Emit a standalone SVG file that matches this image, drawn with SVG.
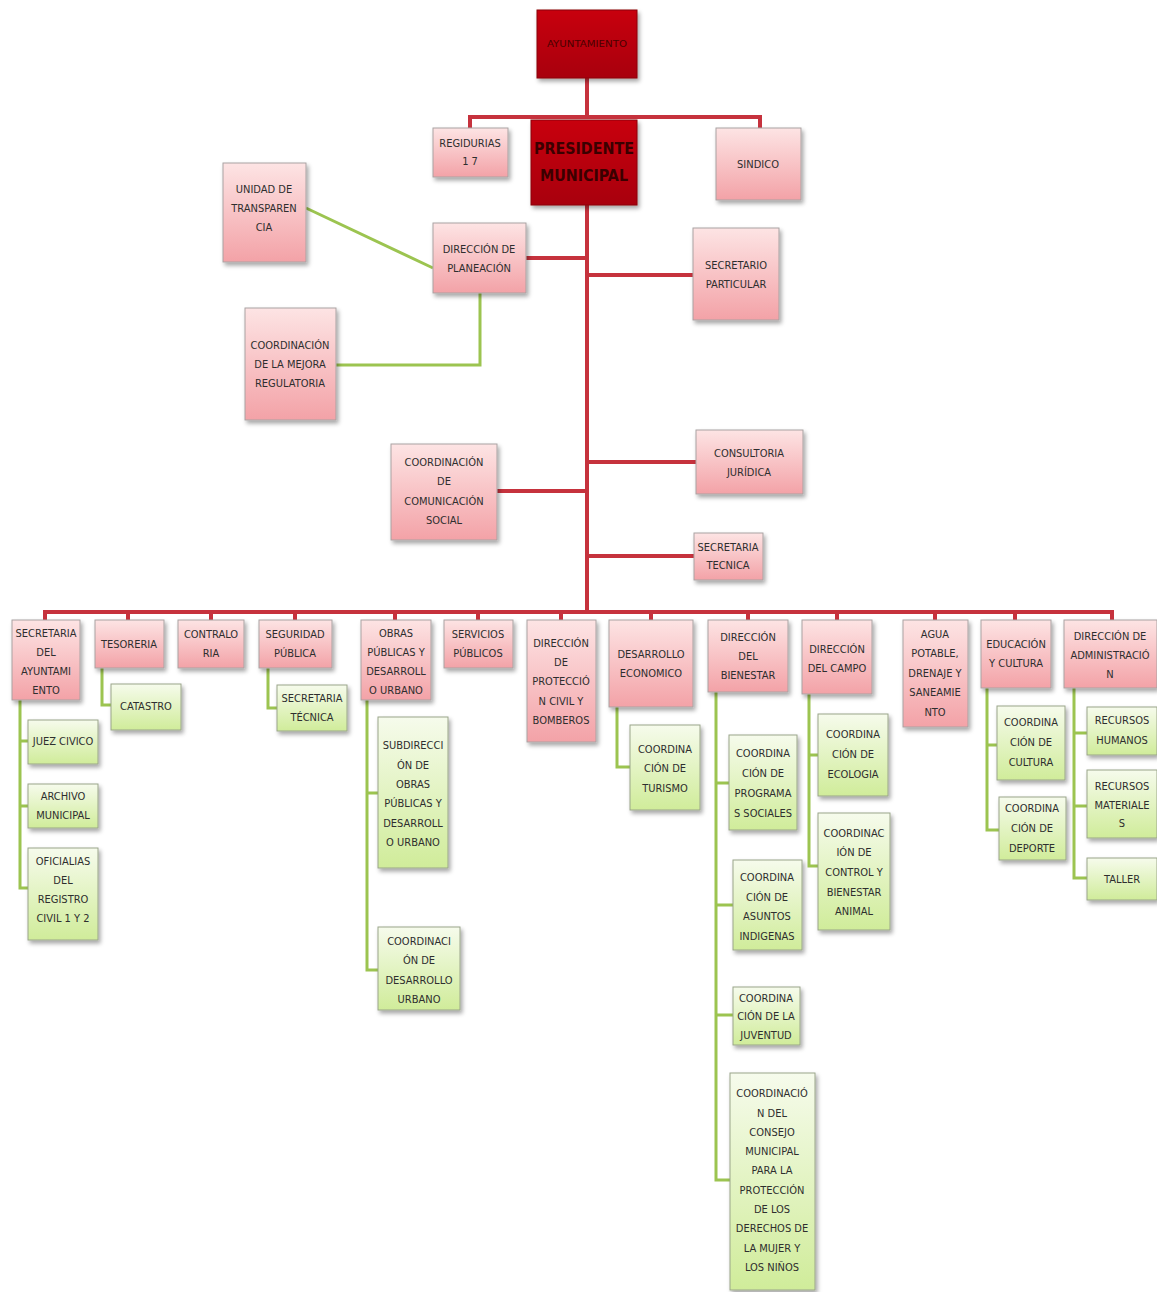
<svg xmlns="http://www.w3.org/2000/svg" width="1157" height="1292" viewBox="0 0 1157 1292">
<defs>
<linearGradient id="gp" x1="0" y1="0" x2="0" y2="1"><stop offset="0" stop-color="#fde4e4"/><stop offset="1" stop-color="#f3a2a7"/></linearGradient>
<linearGradient id="gg" x1="0" y1="0" x2="0" y2="1"><stop offset="0" stop-color="#f6fbec"/><stop offset="1" stop-color="#d0ec9a"/></linearGradient>
<linearGradient id="gr" x1="0" y1="0" x2="0" y2="1"><stop offset="0" stop-color="#c8000f"/><stop offset="1" stop-color="#a8000a"/></linearGradient>
<filter id="sh" x="-20%" y="-20%" width="140%" height="140%"><feDropShadow dx="2" dy="3" stdDeviation="2" flood-color="#000" flood-opacity="0.35"/></filter>
<style>
.p{fill:url(#gp);stroke:#a9a2a2;stroke-width:1;filter:url(#sh)}
.g{fill:url(#gg);stroke:#9aa58a;stroke-width:1;filter:url(#sh)}
.r{fill:url(#gr);stroke:#8a0008;stroke-width:1;filter:url(#sh)}
text{font-family:"Liberation Sans Narrow","DejaVu Sans Condensed","Liberation Sans",sans-serif;font-size:11px;fill:#2e2e2e;text-anchor:middle;dominant-baseline:central}
.big{font-size:16px;font-weight:bold;fill:#3a0000}
.tiny{font-size:8px;fill:#4a0000}
.rc{fill:none;stroke:#c6323d;stroke-width:4}
.gc{fill:none;stroke:#9cc450;stroke-width:3}
</style>
</defs>
<rect width="1157" height="1292" fill="#fff"/>
<g id="connectors">
<path class="rc" d="M587,78 V117 M470,128 V117 H760 V128 M587,205 V612 M526,258 H587 M587,275 H693 M587,462 H696 M497,491 H587 M587,556 H694 M45,620 V612 H1112 V620 M128,612 V620 M211,612 V620 M295,612 V620 M395,612 V620 M478,612 V620 M561,612 V620 M651,612 V620 M748,612 V620 M837,612 V620 M935,612 V620 M1015,612 V620"/>
<path class="gc" d="M306,208 L433,268 M480,293 V365 H336 M20,700 V888 H28 M20,741 H28 M20,806 H28 M102,668 V705 H111 M268,668 V708 H277 M367,700 V970 H378 M367,793 H378 M617,707 V767 H630 M716,692 V1180 H730 M716,783 H729 M716,905 H733 M716,1015 H733 M809,694 V866 H818 M809,755 H818 M987,688 V830 H999 M987,745 H997 M1074,688 V878 H1087 M1074,733 H1087 M1074,806 H1087"/>
</g>
<g id="ayuntamiento"><rect class="r" x="537" y="10" width="100" height="68"/><text class="tiny" x="587" y="44" textLength="80" lengthAdjust="spacingAndGlyphs">AYUNTAMIENTO</text></g>
<g id="presidente"><rect class="r" x="531" y="120" width="106" height="85"/><text class="big" x="584" y="148" textLength="100" lengthAdjust="spacingAndGlyphs">PRESIDENTE</text><text class="big" x="584" y="175" textLength="88" lengthAdjust="spacingAndGlyphs">MUNICIPAL</text></g>
<g id="regidurias"><rect class="p" x="433" y="128" width="75" height="49"/><text x="470" y="143">REGIDURIAS</text><text x="470" y="161">1 7</text></g>
<g id="sindico"><rect class="p" x="716" y="128" width="85" height="72"/><text x="758" y="164">SINDICO</text></g>
<g id="transparencia"><rect class="p" x="223" y="163" width="83" height="99"/><text x="264" y="189">UNIDAD DE</text><text x="264" y="208">TRANSPAREN</text><text x="264" y="227">CIA</text></g>
<g id="planeacion"><rect class="p" x="433" y="223" width="93" height="70"/><text x="479" y="249">DIRECCIÓN DE</text><text x="479" y="268">PLANEACIÓN</text></g>
<g id="particular"><rect class="p" x="693" y="228" width="86" height="92"/><text x="736" y="265">SECRETARIO</text><text x="736" y="284">PARTICULAR</text></g>
<g id="mejora"><rect class="p" x="245" y="308" width="91" height="112"/><text x="290" y="345">COORDINACIÓN</text><text x="290" y="364">DE LA MEJORA</text><text x="290" y="383">REGULATORIA</text></g>
<g id="consultoria"><rect class="p" x="696" y="430" width="107" height="64"/><text x="749" y="453">CONSULTORIA</text><text x="749" y="472">JURÍDICA</text></g>
<g id="comunicacion"><rect class="p" x="391" y="444" width="106" height="96"/><text x="444" y="462">COORDINACIÓN</text><text x="444" y="481">DE</text><text x="444" y="501">COMUNICACIÓN</text><text x="444" y="520">SOCIAL</text></g>
<g id="sectecnica"><rect class="p" x="694" y="533" width="69" height="47"/><text x="728" y="547">SECRETARIA</text><text x="728" y="565">TECNICA</text></g>
<g id="secayuntamiento"><rect class="p" x="12" y="620" width="68" height="80"/><text x="46" y="633">SECRETARIA</text><text x="46" y="652">DEL</text><text x="46" y="671">AYUNTAMI</text><text x="46" y="690">ENTO</text></g>
<g id="tesoreria"><rect class="p" x="95" y="620" width="69" height="48"/><text x="129" y="644">TESORERIA</text></g>
<g id="contraloria"><rect class="p" x="178" y="620" width="66" height="48"/><text x="211" y="634">CONTRALO</text><text x="211" y="653">RIA</text></g>
<g id="seguridad"><rect class="p" x="259" y="620" width="73" height="48"/><text x="295" y="634">SEGURIDAD</text><text x="295" y="653">PÚBLICA</text></g>
<g id="obras"><rect class="p" x="361" y="620" width="70" height="80"/><text x="396" y="633">OBRAS</text><text x="396" y="652">PÚBLICAS Y</text><text x="396" y="671">DESARROLL</text><text x="396" y="690">O URBANO</text></g>
<g id="servicios"><rect class="p" x="444" y="620" width="69" height="48"/><text x="478" y="634">SERVICIOS</text><text x="478" y="653">PÚBLICOS</text></g>
<g id="proteccion"><rect class="p" x="527" y="620" width="69" height="122"/><text x="561" y="643">DIRECCIÓN</text><text x="561" y="662">DE</text><text x="561" y="681">PROTECCIÓ</text><text x="561" y="701">N CIVIL Y</text><text x="561" y="720">BOMBEROS</text></g>
<g id="desarrolloeco"><rect class="p" x="609" y="620" width="84" height="87"/><text x="651" y="654">DESARROLLO</text><text x="651" y="673">ECONOMICO</text></g>
<g id="bienestar"><rect class="p" x="708" y="620" width="80" height="72"/><text x="748" y="637">DIRECCIÓN</text><text x="748" y="656">DEL</text><text x="748" y="675">BIENESTAR</text></g>
<g id="campo"><rect class="p" x="802" y="620" width="70" height="74"/><text x="837" y="649">DIRECCIÓN</text><text x="837" y="668">DEL CAMPO</text></g>
<g id="agua"><rect class="p" x="903" y="620" width="65" height="107"/><text x="935" y="634">AGUA</text><text x="935" y="653">POTABLE,</text><text x="935" y="673">DRENAJE Y</text><text x="935" y="692">SANEAMIE</text><text x="935" y="712">NTO</text></g>
<g id="educacion"><rect class="p" x="981" y="620" width="70" height="68"/><text x="1016" y="644">EDUCACIÓN</text><text x="1016" y="663">Y CULTURA</text></g>
<g id="administracion"><rect class="p" x="1064" y="620" width="93" height="68"/><text x="1110" y="636">DIRECCIÓN DE</text><text x="1110" y="655">ADMINISTRACIÓ</text><text x="1110" y="674">N</text></g>
<g id="juez"><rect class="g" x="28" y="720" width="70" height="44"/><text x="63" y="741">JUEZ CIVICO</text></g>
<g id="archivo"><rect class="g" x="28" y="784" width="70" height="44"/><text x="63" y="796">ARCHIVO</text><text x="63" y="815">MUNICIPAL</text></g>
<g id="oficialias"><rect class="g" x="28" y="848" width="70" height="92"/><text x="63" y="861">OFICIALIAS</text><text x="63" y="880">DEL</text><text x="63" y="899">REGISTRO</text><text x="63" y="918">CIVIL 1 Y 2</text></g>
<g id="catastro"><rect class="g" x="111" y="684" width="70" height="46"/><text x="146" y="706">CATASTRO</text></g>
<g id="sectecnica2"><rect class="g" x="277" y="685" width="70" height="46"/><text x="312" y="698">SECRETARIA</text><text x="312" y="717">TÉCNICA</text></g>
<g id="subdireccion"><rect class="g" x="378" y="717" width="70" height="151"/><text x="413" y="745">SUBDIRECCI</text><text x="413" y="765">ÓN DE</text><text x="413" y="784">OBRAS</text><text x="413" y="803">PÚBLICAS Y</text><text x="413" y="823">DESARROLL</text><text x="413" y="842">O URBANO</text></g>
<g id="coorddu"><rect class="g" x="378" y="927" width="82" height="83"/><text x="419" y="941">COORDINACI</text><text x="419" y="960">ÓN DE</text><text x="419" y="980">DESARROLLO</text><text x="419" y="999">URBANO</text></g>
<g id="turismo"><rect class="g" x="630" y="725" width="70" height="85"/><text x="665" y="749">COORDINA</text><text x="665" y="768">CIÓN DE</text><text x="665" y="788">TURISMO</text></g>
<g id="programas"><rect class="g" x="729" y="735" width="68" height="95"/><text x="763" y="753">COORDINA</text><text x="763" y="773">CIÓN DE</text><text x="763" y="793">PROGRAMA</text><text x="763" y="813">S SOCIALES</text></g>
<g id="indigenas"><rect class="g" x="733" y="860" width="69" height="90"/><text x="767" y="877">COORDINA</text><text x="767" y="897">CIÓN DE</text><text x="767" y="916">ASUNTOS</text><text x="767" y="936">INDIGENAS</text></g>
<g id="juventud"><rect class="g" x="733" y="987" width="67" height="58"/><text x="766" y="998">COORDINA</text><text x="766" y="1016">CIÓN DE LA</text><text x="766" y="1035">JUVENTUD</text></g>
<g id="consejo"><rect class="g" x="730" y="1073" width="85" height="217"/><text x="772" y="1093">COORDINACIÓ</text><text x="772" y="1113">N DEL</text><text x="772" y="1132">CONSEJO</text><text x="772" y="1151">MUNICIPAL</text><text x="772" y="1170">PARA LA</text><text x="772" y="1190">PROTECCIÓN</text><text x="772" y="1209">DE LOS</text><text x="772" y="1228">DERECHOS DE</text><text x="772" y="1248">LA MUJER Y</text><text x="772" y="1267">LOS NIÑOS</text></g>
<g id="ecologia"><rect class="g" x="818" y="714" width="70" height="82"/><text x="853" y="734">COORDINA</text><text x="853" y="754">CIÓN DE</text><text x="853" y="774">ECOLOGIA</text></g>
<g id="animal"><rect class="g" x="818" y="813" width="72" height="117"/><text x="854" y="833">COORDINAC</text><text x="854" y="852">IÓN DE</text><text x="854" y="872">CONTROL Y</text><text x="854" y="892">BIENESTAR</text><text x="854" y="911">ANIMAL</text></g>
<g id="cultura"><rect class="g" x="997" y="706" width="68" height="74"/><text x="1031" y="722">COORDINA</text><text x="1031" y="742">CIÓN DE</text><text x="1031" y="762">CULTURA</text></g>
<g id="deporte"><rect class="g" x="999" y="797" width="67" height="63"/><text x="1032" y="808">COORDINA</text><text x="1032" y="828">CIÓN DE</text><text x="1032" y="848">DEPORTE</text></g>
<g id="rh"><rect class="g" x="1087" y="707" width="70" height="48"/><text x="1122" y="720">RECURSOS</text><text x="1122" y="740">HUMANOS</text></g>
<g id="rm"><rect class="g" x="1087" y="770" width="70" height="68"/><text x="1122" y="786">RECURSOS</text><text x="1122" y="805">MATERIALE</text><text x="1122" y="823">S</text></g>
<g id="taller"><rect class="g" x="1087" y="858" width="70" height="42"/><text x="1122" y="879">TALLER</text></g>
</svg>
